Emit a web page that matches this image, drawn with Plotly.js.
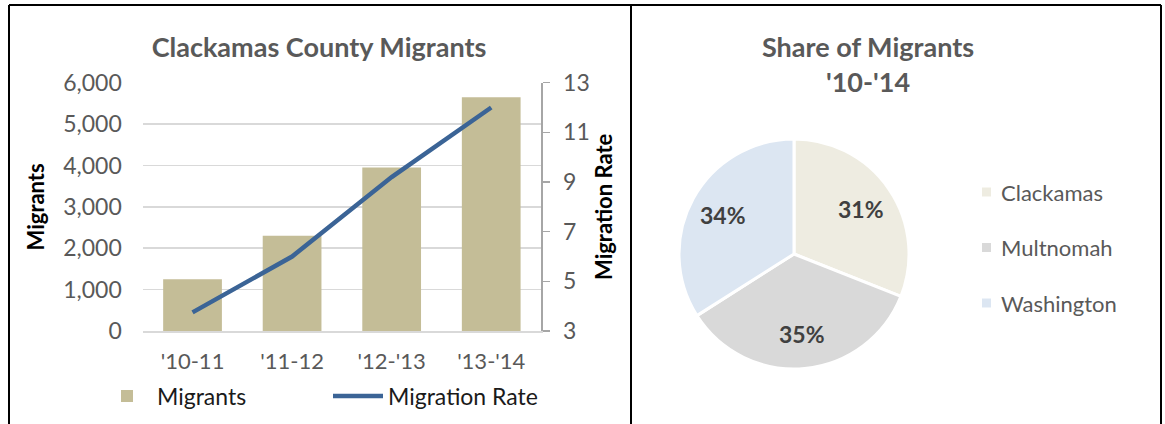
<!DOCTYPE html>
<html><head><meta charset="utf-8">
<script src="https://cdn.plot.ly/plotly-3.0.1.min.js"></script>
<style>html,body{margin:0;padding:0;background:#fff}#chart{width:1165px;height:424px}</style>
</head><body><div id="chart"></div>
<script>
// ---- data ----
const periods = ["'10-11", "'11-12", "'12-'13", "'13-'14"];
const migrants = [1250, 2300, 3950, 5650];
const migrationRate = [3.75, 6.0, 9.2, 12.0];
const counties = ['Clackamas', 'Multnomah', 'Washington'];
const shares = [31, 35, 34];
const countyColors = ['#eeece1', '#d9d9d9', '#dce6f2'];

// ---- helpers (pixel -> paper) ----
const W = 1165, H = 424;
const fx = x => x / W, fy = y => 1 - y / H;
const FONT = 'Lato, "Open Sans", sans-serif';

// pie geometry (layout)
const PIE_CX = 794, PIE_CY = 254, PIE_R = 115;

const traces = [
  {
    type: 'bar', name: 'Migrants', x: periods, y: migrants,
    marker: {color: '#c4bd97'}, xaxis: 'x', yaxis: 'y', hoverinfo: 'none'
  },
  {
    type: 'scatter', mode: 'lines', name: 'Migration Rate', x: periods, y: migrationRate,
    line: {color: '#3b6496', width: 4.5}, xaxis: 'x', yaxis: 'y2', hoverinfo: 'none'
  },
  {
    type: 'pie', labels: counties, values: shares, sort: false, direction: 'clockwise', rotation: 0,
    marker: {colors: countyColors, line: {color: '#ffffff', width: 3}},
    textinfo: 'none',
    domain: {x: [fx(PIE_CX - PIE_R), fx(PIE_CX + PIE_R)], y: [fy(PIE_CY + PIE_R), fy(PIE_CY - PIE_R)]},
    showlegend: false, hoverinfo: 'none'
  }
];

const shapes = [
  {type: 'line', xref: 'paper', yref: 'paper', x0: fx(9), x1: fx(1161), y0: fy(5), y1: fy(5), line: {color: '#000', width: 2}},
  {type: 'line', xref: 'paper', yref: 'paper', x0: fx(9), x1: fx(9), y0: fy(5), y1: fy(430), line: {color: '#000', width: 2}},
  {type: 'line', xref: 'paper', yref: 'paper', x0: fx(631), x1: fx(631), y0: fy(5), y1: fy(430), line: {color: '#000', width: 2}},
  {type: 'line', xref: 'paper', yref: 'paper', x0: fx(1161), x1: fx(1161), y0: fy(5), y1: fy(430), line: {color: '#000', width: 2}}
];
const annotations = [
  {text: "Share of Migrants<br>'10-'14", xref: 'paper', yref: 'paper', x: fx(868), y: fy(63.5),
   xanchor: 'center', yanchor: 'middle', showarrow: false,
   font: {family: FONT, size: 27, color: '#595959', weight: 'bold'}}
];

// percentage labels placed at each slice's mid-angle (computed from the data)
const total = shares.reduce((a, b) => a + b, 0);
let cum = 0;
shares.forEach((v, i) => {
  const mid = (cum + v / 2) / total * 2 * Math.PI; // clockwise from 12 o'clock
  cum += v;
  const px = PIE_CX + 0.7 * PIE_R * Math.sin(mid);
  const py = PIE_CY - 0.7 * PIE_R * Math.cos(mid);
  annotations.push({text: Math.round(v / total * 100) + '%', xref: 'paper', yref: 'paper', x: fx(px), y: fy(py),
    xanchor: 'center', yanchor: 'middle', showarrow: false,
    font: {family: FONT, size: 23, color: '#404040', weight: 'bold'}});
});

// pie legend
counties.forEach((c, i) => {
  const cy = 192 + 55.5 * i;
  shapes.push({type: 'rect', xref: 'paper', yref: 'paper', x0: fx(982), x1: fx(991), y0: fy(cy + 4.5), y1: fy(cy - 4.5),
    fillcolor: countyColors[i], line: {width: 0}});
  annotations.push({text: c, xref: 'paper', yref: 'paper', x: fx(999), y: fy(cy), xanchor: 'left', yanchor: 'middle',
    showarrow: false, font: {family: FONT, size: 22, color: '#595959'}});
});

const layout = {
  width: W, height: H, margin: {l: 0, r: 0, t: 0, b: 0},
  paper_bgcolor: '#fff', plot_bgcolor: 'rgba(0,0,0,0)',
  font: {family: FONT, color: '#595959'},
  title: {text: 'Clackamas County Migrants', x: fx(319), xanchor: 'center', y: fy(48), yanchor: 'middle',
    font: {family: FONT, size: 27, color: '#595959', weight: 'bold'}},
  bargap: 0.41,
  xaxis: {domain: [fx(142.75), fx(541)], type: 'category', showgrid: false, showline: true, linecolor: '#d9d9d9', linewidth: 1.5,
    ticks: '', tickfont: {family: FONT, size: 22, color: '#595959'}, ticklabelstandoff: 10, fixedrange: true},
  yaxis: {domain: [fy(331), fy(82.7)], range: [0, 6000], dtick: 1000, tickformat: ',d', showgrid: true, gridcolor: '#d9d9d9', gridwidth: 1.5,
    zeroline: false, showline: false, ticks: '', tickfont: {family: FONT, size: 23, color: '#595959'}, ticklabelstandoff: 20,
    title: {text: 'Migrants', font: {family: FONT, size: 22, color: '#000', weight: 'bold'}, standoff: 12}, fixedrange: true},
  yaxis2: {overlaying: 'y', side: 'right', anchor: 'x', range: [3, 13], tick0: 3, dtick: 2, showgrid: false, zeroline: false,
    showline: true, linecolor: '#a6a6a6', linewidth: 1.5, ticks: 'outside', ticklen: 7, tickcolor: '#a6a6a6', tickwidth: 1.5,
    tickfont: {family: FONT, size: 23, color: '#595959'}, ticklabelstandoff: 9,
    title: {text: 'Migration Rate', font: {family: FONT, size: 22, color: '#000', weight: 'bold'}, standoff: 4}, fixedrange: true},
  showlegend: true,
  legend: {orientation: 'h', x: fx(97), xanchor: 'left', y: fy(396), yanchor: 'middle', itemwidth: 50, entrywidth: 166,
    font: {family: FONT, size: 23, color: '#1a1a1a'}, bgcolor: 'rgba(0,0,0,0)', itemclick: false, itemdoubleclick: false},
  shapes: shapes, annotations: annotations
};

Plotly.newPlot('chart', traces, layout, {displayModeBar: false, staticPlot: true});
</script></body></html>
